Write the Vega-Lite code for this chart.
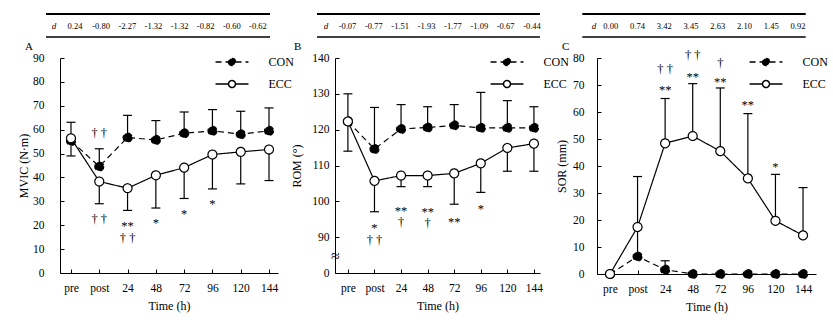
{
  "$schema": "https://vega.github.io/schema/vega-lite/v6.json",
  "background": "white",
  "padding": {"left": 17, "top": 13, "right": 3, "bottom": 5},
  "datasets": {
    "A": [
      {"time": "pre", "group": "CON", "mean": 55.3, "bar": 63.1},
      {"time": "post", "group": "CON", "mean": 44.6, "bar": 52},
      {"time": "24", "group": "CON", "mean": 56.7, "bar": 66},
      {"time": "48", "group": "CON", "mean": 55.7, "bar": 63.8},
      {"time": "72", "group": "CON", "mean": 58.5, "bar": 67.4},
      {"time": "96", "group": "CON", "mean": 59.5, "bar": 68.4},
      {"time": "120", "group": "CON", "mean": 58.1, "bar": 67.7},
      {"time": "144", "group": "CON", "mean": 59.5, "bar": 69.1},
      {"time": "pre", "group": "ECC", "mean": 56.4, "bar": 49},
      {"time": "post", "group": "ECC", "mean": 38.3, "bar": 29},
      {"time": "24", "group": "ECC", "mean": 35.5, "bar": 26.2},
      {"time": "48", "group": "ECC", "mean": 40.9, "bar": 27.2},
      {"time": "72", "group": "ECC", "mean": 44.1, "bar": 31.2},
      {"time": "96", "group": "ECC", "mean": 49.6, "bar": 35.2},
      {"time": "120", "group": "ECC", "mean": 50.7, "bar": 37.3},
      {"time": "144", "group": "ECC", "mean": 51.7, "bar": 38.7}
    ],
    "B": [
      {"time": "pre", "group": "CON", "mean": 122.3, "bar": 130},
      {"time": "post", "group": "CON", "mean": 114.6, "bar": 126.2},
      {"time": "24", "group": "CON", "mean": 120.2, "bar": 127},
      {"time": "48", "group": "CON", "mean": 120.6, "bar": 126.4},
      {"time": "72", "group": "CON", "mean": 121.2, "bar": 127},
      {"time": "96", "group": "CON", "mean": 120.5, "bar": 130.4},
      {"time": "120", "group": "CON", "mean": 120.5, "bar": 128.1},
      {"time": "144", "group": "CON", "mean": 120.5, "bar": 126.4},
      {"time": "pre", "group": "ECC", "mean": 122.3, "bar": 114},
      {"time": "post", "group": "ECC", "mean": 105.7, "bar": 97.1},
      {"time": "24", "group": "ECC", "mean": 107.2, "bar": 104.1},
      {"time": "48", "group": "ECC", "mean": 107.2, "bar": 104.1},
      {"time": "72", "group": "ECC", "mean": 107.8, "bar": 99.2},
      {"time": "96", "group": "ECC", "mean": 110.6, "bar": 102.5},
      {"time": "120", "group": "ECC", "mean": 114.9, "bar": 108.4},
      {"time": "144", "group": "ECC", "mean": 116.1, "bar": 108.4}
    ],
    "C": [
      {"time": "pre", "group": "CON", "mean": 0, "bar": null},
      {"time": "post", "group": "CON", "mean": 6.5, "bar": 16.5},
      {"time": "24", "group": "CON", "mean": 1.6, "bar": 4.9},
      {"time": "48", "group": "CON", "mean": 0, "bar": null},
      {"time": "72", "group": "CON", "mean": 0, "bar": null},
      {"time": "96", "group": "CON", "mean": 0, "bar": null},
      {"time": "120", "group": "CON", "mean": 0, "bar": null},
      {"time": "144", "group": "CON", "mean": 0, "bar": null},
      {"time": "pre", "group": "ECC", "mean": 0, "bar": null},
      {"time": "post", "group": "ECC", "mean": 17.4, "bar": 36.1},
      {"time": "24", "group": "ECC", "mean": 48.4, "bar": 65},
      {"time": "48", "group": "ECC", "mean": 51.1, "bar": 70.5},
      {"time": "72", "group": "ECC", "mean": 45.5, "bar": 68.9},
      {"time": "96", "group": "ECC", "mean": 35.4, "bar": 59.4},
      {"time": "120", "group": "ECC", "mean": 19.7, "bar": 36.9},
      {"time": "144", "group": "ECC", "mean": 14.3, "bar": 32}
    ],
    "annA": [
      {"time": "post", "y": 58.5, "label": "† †"},
      {"time": "post", "y": 22.5, "label": "† †"},
      {"time": "24", "y": 19.7, "label": "**"},
      {"time": "24", "y": 14.6, "label": "† †"},
      {"time": "48", "y": 21, "label": "*"},
      {"time": "72", "y": 24.7, "label": "*"},
      {"time": "96", "y": 28.7, "label": "*"}
    ],
    "annB": [
      {"time": "post", "y": 92.6, "label": "*"},
      {"time": "post", "y": 89.2, "label": "† †"},
      {"time": "24", "y": 97.3, "label": "**"},
      {"time": "24", "y": 94.2, "label": "†"},
      {"time": "48", "y": 97.0, "label": "**"},
      {"time": "48", "y": 94.0, "label": "†"},
      {"time": "72", "y": 94.1, "label": "**"},
      {"time": "96", "y": 98, "label": "*"}
    ],
    "annC": [
      {"time": "24", "y": 68.2, "label": "**"},
      {"time": "24", "y": 75.8, "label": "† †"},
      {"time": "48", "y": 73.1, "label": "**"},
      {"time": "48", "y": 81, "label": "† †"},
      {"time": "72", "y": 71, "label": "**"},
      {"time": "72", "y": 78.2, "label": "†"},
      {"time": "96", "y": 62.7, "label": "**"},
      {"time": "120", "y": 39.6, "label": "*"}
    ],
    "dA": [
      {"col": 1, "d": "0.24"}, {"col": 2, "d": "-0.80"}, {"col": 3, "d": "-2.27"}, {"col": 4, "d": "-1.32"},
      {"col": 5, "d": "-1.32"}, {"col": 6, "d": "-0.82"}, {"col": 7, "d": "-0.60"}, {"col": 8, "d": "-0.62"}
    ],
    "dB": [
      {"col": 1, "d": "-0.07"}, {"col": 2, "d": "-0.77"}, {"col": 3, "d": "-1.51"}, {"col": 4, "d": "-1.93"},
      {"col": 5, "d": "-1.77"}, {"col": 6, "d": "-1.09"}, {"col": 7, "d": "-0.67"}, {"col": 8, "d": "-0.44"}
    ],
    "dC": [
      {"col": 1, "d": "0.00"}, {"col": 2, "d": "0.74"}, {"col": 3, "d": "3.42"}, {"col": 4, "d": "3.45"},
      {"col": 5, "d": "2.63"}, {"col": 6, "d": "2.10"}, {"col": 7, "d": "1.45"}, {"col": 8, "d": "0.92"}
    ]
  },
  "resolve": {"scale": {"fill": "independent", "strokeDash": "independent"}, "legend": {"fill": "independent", "strokeDash": "independent"}},
  "bounds": "flush",
  "spacing": 57,
  "hconcat": [
    {
      "width": 218, "height": 215,
      "resolve": {"scale": {"x": "independent", "y": "independent"}},
      "layer": [
        {
          "data": {"name": "A"},
          "encoding": {
            "x": {"field": "time", "type": "ordinal", "sort": ["pre", "post", "24", "48", "72", "96", "120", "144"],
                  "scale": {"type": "point", "domain": ["pre", "post", "24", "48", "72", "96", "120", "144"], "padding": 0.353, "align": 0.55},
                  "axis": {"title": "Time (h)"}}
          },
          "layer": [
            {"transform": [{"filter": "isValid(datum.bar)"}],
             "mark": {"type": "rule", "color": "black", "strokeWidth": 1.2},
             "encoding": {"y": {"field": "mean", "type": "quantitative", "title": "MVIC (N·m)", "scale": {"domain": [0, 90], "nice": false},
                                "axis": {"values": [0, 10, 20, 30, 40, 50, 60, 70, 80, 90], "labelOverlap": false, "labelSeparation": -10, "labelPadding": 20, "titleX": -37, "titleBaseline": "middle"}},
                          "y2": {"field": "bar"}}},
            {"transform": [{"filter": "isValid(datum.bar)"}],
             "mark": {"type": "tick", "color": "black", "thickness": 1.2, "size": 9, "opacity": 1},
             "encoding": {"y": {"field": "bar", "type": "quantitative", "title": "MVIC (N·m)",
                                "axis": {"values": [0, 10, 20, 30, 40, 50, 60, 70, 80, 90], "labelOverlap": false, "labelSeparation": -10, "labelPadding": 20, "titleX": -37, "titleBaseline": "middle"}}}},
            {"mark": {"type": "line", "color": "black", "strokeWidth": 1.2},
             "encoding": {"y": {"field": "mean", "type": "quantitative", "title": "MVIC (N·m)",
                                "axis": {"values": [0, 10, 20, 30, 40, 50, 60, 70, 80, 90], "labelOverlap": false, "labelSeparation": -10, "labelPadding": 20, "titleX": -37, "titleBaseline": "middle"}},
                          "strokeDash": {"field": "group", "type": "nominal", "scale": {"domain": ["CON", "ECC"], "range": [[6, 4], [1, 0]]},
                                   "legend": {"title": null, "orient": "none", "legendX": 166, "legendY": -2, "padding": 0, "symbolType": "M-4.7,0H-1M1,0H4.7M-1,0A1,1,0,1,0,1,0A1,1,0,1,0,-1,0Z", "symbolSize": 49, "labelOffset": 30.5, "rowPadding": 8, "labelFontSize": 12, "labelColor": "black",
                                              "encode": {"symbols": {"update": {"stroke": {"value": "black"}, "strokeWidth": {"value": 1.2}}}}}}}},
            {"mark": {"type": "point", "shape": "circle", "size": 80, "filled": true, "stroke": "black", "strokeWidth": 1.2, "opacity": 1},
             "encoding": {"y": {"field": "mean", "type": "quantitative", "title": "MVIC (N·m)",
                                "axis": {"values": [0, 10, 20, 30, 40, 50, 60, 70, 80, 90], "labelOverlap": false, "labelSeparation": -10, "labelPadding": 20, "titleX": -37, "titleBaseline": "middle"}},
                          "fill": {"field": "group", "type": "nominal", "scale": {"domain": ["CON", "ECC"], "range": ["black", "white"]},
                                   "legend": {"title": null, "orient": "none", "legendX": 166, "legendY": -2, "padding": 0, "symbolType": "M-4.7,0H-1M1,0H4.7M-1,0A1,1,0,1,0,1,0A1,1,0,1,0,-1,0Z", "symbolSize": 49, "labelOffset": 30.5, "rowPadding": 8, "labelFontSize": 12, "labelColor": "black",
                                              "encode": {"symbols": {"update": {"stroke": {"value": "black"}, "strokeWidth": {"value": 1.2}}}}}},
                          "strokeDash": {"field": "group", "type": "nominal",
                                   "legend": {"title": null, "orient": "none", "legendX": 166, "legendY": -2, "padding": 0, "symbolType": "M-4.7,0H-1M1,0H4.7M-1,0A1,1,0,1,0,1,0A1,1,0,1,0,-1,0Z", "symbolSize": 49, "labelOffset": 30.5, "rowPadding": 8, "labelFontSize": 12, "labelColor": "black",
                                              "encode": {"symbols": {"update": {"stroke": {"value": "black"}, "strokeWidth": {"value": 1.2}}}}}}}},
            {"data": {"name": "annA"},
             "mark": {"type": "text", "fontSize": 12.5, "color": "black", "baseline": "middle"},
             "encoding": {"y": {"field": "y", "type": "quantitative", "title": "MVIC (N·m)",
                                "axis": {"values": [0, 10, 20, 30, 40, 50, 60, 70, 80, 90], "labelOverlap": false, "labelSeparation": -10, "labelPadding": 20, "titleX": -37, "titleBaseline": "middle"}},
                          "text": {"field": "label"}}}
          ]
        },
        {
          "layer": [
            {"data": {"values": [{}]}, "mark": {"type": "rule", "color": "black", "strokeWidth": 2},
             "encoding": {"x": {"datum": -0.11, "type": "quantitative", "scale": {"domain": [0.426, 8.766], "nice": false, "zero": false}, "axis": null},
                          "x2": {"datum": 8.46},
                          "y": {"datum": 1, "type": "quantitative", "scale": {"domain": [0, 1], "range": [-21, -44], "nice": false}, "axis": null}}},
            {"data": {"values": [{}]}, "mark": {"type": "rule", "color": "black", "strokeWidth": 1.5},
             "encoding": {"x": {"datum": -0.11, "type": "quantitative"}, "x2": {"datum": 8.46},
                          "y": {"datum": 0, "type": "quantitative"}}},
            {"data": {"values": [{}]}, "mark": {"type": "text", "fontStyle": "italic", "fontSize": 9, "color": "black"},
             "encoding": {"x": {"datum": 0.2, "type": "quantitative"}, "y": {"datum": 0.5, "type": "quantitative"}, "text": {"value": "d"}}},
            {"data": {"name": "dA"}, "mark": {"type": "text", "fontSize": 8.5, "color": "black"},
             "encoding": {"x": {"field": "col", "type": "quantitative"}, "y": {"datum": 0.5, "type": "quantitative"}, "text": {"field": "d"}}},
            {"data": {"values": [{}]}, "mark": {"type": "text", "fontSize": 11, "color": "black", "align": "left", "baseline": "middle"},
             "encoding": {"x": {"datum": -0.913, "type": "quantitative"}, "y": {"datum": -0.435, "type": "quantitative"}, "text": {"value": "A"}}}
          ]
        }
      ]
    },
    {
      "width": 205, "height": 215,
      "resolve": {"scale": {"x": "independent", "y": "independent"}},
      "layer": [
        {
          "data": {"name": "B"},
          "encoding": {
            "x": {"field": "time", "type": "ordinal", "sort": ["pre", "post", "24", "48", "72", "96", "120", "144"],
                  "scale": {"type": "point", "domain": ["pre", "post", "24", "48", "72", "96", "120", "144"], "padding": 0.357, "align": 0.68},
                  "axis": {"title": "Time (h)"}}
          },
          "layer": [
            {"transform": [{"filter": "isValid(datum.bar)"}],
             "mark": {"type": "rule", "color": "black", "strokeWidth": 1.2},
             "encoding": {"y": {"field": "mean", "type": "quantitative", "title": "ROM (°)", "scale": {"domain": [80, 140], "nice": false, "zero": false},
                                "axis": {"values": [80, 85, 90, 100, 110, 120, 130, 140], "labelOverlap": false, "labelSeparation": -10,
                                         "labelExpr": "datum.value == 80 ? '0' : datum.value == 85 ? '≈' : datum.label",
                                         "labelAlign": {"condition": {"test": "datum.value == 85", "value": "center"}, "value": "right"},
                                         "labelPadding": {"condition": {"test": "datum.value == 85", "value": 4}, "value": 10},
                                         "labelFontSize": {"condition": {"test": "datum.value == 85", "value": 16}, "value": 11.5},
                                         "tickOpacity": {"condition": {"test": "datum.value == 85", "value": 0}, "value": 1},
                                         "titleX": -39, "titleBaseline": "middle"}},
                          "y2": {"field": "bar"}}},
            {"transform": [{"filter": "isValid(datum.bar)"}],
             "mark": {"type": "tick", "color": "black", "thickness": 1.2, "size": 9, "opacity": 1},
             "encoding": {"y": {"field": "bar", "type": "quantitative", "title": "ROM (°)",
                                "axis": {"values": [80, 85, 90, 100, 110, 120, 130, 140], "labelOverlap": false, "labelSeparation": -10,
                                         "labelExpr": "datum.value == 80 ? '0' : datum.value == 85 ? '≈' : datum.label",
                                         "labelAlign": {"condition": {"test": "datum.value == 85", "value": "center"}, "value": "right"},
                                         "labelPadding": {"condition": {"test": "datum.value == 85", "value": 4}, "value": 10},
                                         "labelFontSize": {"condition": {"test": "datum.value == 85", "value": 16}, "value": 11.5},
                                         "tickOpacity": {"condition": {"test": "datum.value == 85", "value": 0}, "value": 1},
                                         "titleX": -39, "titleBaseline": "middle"}}}},
            {"mark": {"type": "line", "color": "black", "strokeWidth": 1.2},
             "encoding": {"y": {"field": "mean", "type": "quantitative", "title": "ROM (°)",
                                "axis": {"values": [80, 85, 90, 100, 110, 120, 130, 140], "labelOverlap": false, "labelSeparation": -10,
                                         "labelExpr": "datum.value == 80 ? '0' : datum.value == 85 ? '≈' : datum.label",
                                         "labelAlign": {"condition": {"test": "datum.value == 85", "value": "center"}, "value": "right"},
                                         "labelPadding": {"condition": {"test": "datum.value == 85", "value": 4}, "value": 10},
                                         "labelFontSize": {"condition": {"test": "datum.value == 85", "value": 16}, "value": 11.5},
                                         "tickOpacity": {"condition": {"test": "datum.value == 85", "value": 0}, "value": 1},
                                         "titleX": -39, "titleBaseline": "middle"}},
                          "strokeDash": {"field": "group", "type": "nominal", "scale": {"domain": ["CON", "ECC"], "range": [[6, 4], [1, 0]]},
                                   "legend": {"title": null, "orient": "none", "legendX": 166, "legendY": -2, "padding": 0, "symbolType": "M-4.7,0H-1M1,0H4.7M-1,0A1,1,0,1,0,1,0A1,1,0,1,0,-1,0Z", "symbolSize": 49, "labelOffset": 30.5, "rowPadding": 8, "labelFontSize": 12, "labelColor": "black",
                                              "encode": {"symbols": {"update": {"stroke": {"value": "black"}, "strokeWidth": {"value": 1.2}}}}}}}},
            {"mark": {"type": "point", "shape": "circle", "size": 80, "filled": true, "stroke": "black", "strokeWidth": 1.2, "opacity": 1},
             "encoding": {"y": {"field": "mean", "type": "quantitative", "title": "ROM (°)",
                                "axis": {"values": [80, 85, 90, 100, 110, 120, 130, 140], "labelOverlap": false, "labelSeparation": -10,
                                         "labelExpr": "datum.value == 80 ? '0' : datum.value == 85 ? '≈' : datum.label",
                                         "labelAlign": {"condition": {"test": "datum.value == 85", "value": "center"}, "value": "right"},
                                         "labelPadding": {"condition": {"test": "datum.value == 85", "value": 4}, "value": 10},
                                         "labelFontSize": {"condition": {"test": "datum.value == 85", "value": 16}, "value": 11.5},
                                         "tickOpacity": {"condition": {"test": "datum.value == 85", "value": 0}, "value": 1},
                                         "titleX": -39, "titleBaseline": "middle"}},
                          "fill": {"field": "group", "type": "nominal", "scale": {"domain": ["CON", "ECC"], "range": ["black", "white"]},
                                   "legend": {"title": null, "orient": "none", "legendX": 166, "legendY": -2, "padding": 0, "symbolType": "M-4.7,0H-1M1,0H4.7M-1,0A1,1,0,1,0,1,0A1,1,0,1,0,-1,0Z", "symbolSize": 49, "labelOffset": 30.5, "rowPadding": 8, "labelFontSize": 12, "labelColor": "black",
                                              "encode": {"symbols": {"update": {"stroke": {"value": "black"}, "strokeWidth": {"value": 1.2}}}}}},
                          "strokeDash": {"field": "group", "type": "nominal",
                                   "legend": {"title": null, "orient": "none", "legendX": 166, "legendY": -2, "padding": 0, "symbolType": "M-4.7,0H-1M1,0H4.7M-1,0A1,1,0,1,0,1,0A1,1,0,1,0,-1,0Z", "symbolSize": 49, "labelOffset": 30.5, "rowPadding": 8, "labelFontSize": 12, "labelColor": "black",
                                              "encode": {"symbols": {"update": {"stroke": {"value": "black"}, "strokeWidth": {"value": 1.2}}}}}}}},
            {"data": {"name": "annB"},
             "mark": {"type": "text", "fontSize": 12.5, "color": "black", "baseline": "middle"},
             "encoding": {"y": {"field": "y", "type": "quantitative", "title": "ROM (°)",
                                "axis": {"values": [80, 85, 90, 100, 110, 120, 130, 140], "labelOverlap": false, "labelSeparation": -10,
                                         "labelExpr": "datum.value == 80 ? '0' : datum.value == 85 ? '≈' : datum.label",
                                         "labelAlign": {"condition": {"test": "datum.value == 85", "value": "center"}, "value": "right"},
                                         "labelPadding": {"condition": {"test": "datum.value == 85", "value": 4}, "value": 10},
                                         "labelFontSize": {"condition": {"test": "datum.value == 85", "value": 16}, "value": 11.5},
                                         "tickOpacity": {"condition": {"test": "datum.value == 85", "value": 0}, "value": 1},
                                         "titleX": -39, "titleBaseline": "middle"}},
                          "text": {"field": "label"}}}
          ]
        },
        {
          "layer": [
            {"data": {"values": [{}]}, "mark": {"type": "rule", "color": "black", "strokeWidth": 2},
             "encoding": {"x": {"datum": -0.157, "type": "quantitative", "scale": {"domain": [0.526, 8.303], "nice": false, "zero": false}, "axis": null},
                          "x2": {"datum": 8.3},
                          "y": {"datum": 1, "type": "quantitative", "scale": {"domain": [0, 1], "range": [-21, -44], "nice": false}, "axis": null}}},
            {"data": {"values": [{}]}, "mark": {"type": "rule", "color": "black", "strokeWidth": 1.5},
             "encoding": {"x": {"datum": -0.157, "type": "quantitative"}, "x2": {"datum": 8.3},
                          "y": {"datum": 0, "type": "quantitative"}}},
            {"data": {"values": [{}]}, "mark": {"type": "text", "fontStyle": "italic", "fontSize": 9, "color": "black"},
             "encoding": {"x": {"datum": 0.185, "type": "quantitative"}, "y": {"datum": 0.5, "type": "quantitative"}, "text": {"value": "d"}}},
            {"data": {"name": "dB"}, "mark": {"type": "text", "fontSize": 8.5, "color": "black"},
             "encoding": {"x": {"field": "col", "type": "quantitative"}, "y": {"datum": 0.5, "type": "quantitative"}, "text": {"field": "d"}}},
            {"data": {"values": [{}]}, "mark": {"type": "text", "fontSize": 11, "color": "black", "align": "left", "baseline": "middle"},
             "encoding": {"x": {"datum": -1.029, "type": "quantitative"}, "y": {"datum": -0.435, "type": "quantitative"}, "text": {"value": "B"}}}
          ]
        }
      ]
    },
    {
      "width": 219, "height": 216,
      "resolve": {"scale": {"x": "independent", "y": "independent"}},
      "layer": [
        {
          "data": {"name": "C"},
          "encoding": {
            "x": {"field": "time", "type": "ordinal", "sort": ["pre", "post", "24", "48", "72", "96", "120", "144"],
                  "scale": {"type": "point", "domain": ["pre", "post", "24", "48", "72", "96", "120", "144"], "padding": 0.47, "align": 0.5},
                  "axis": {"title": "Time (h)"}}
          },
          "layer": [
            {"transform": [{"filter": "isValid(datum.bar)"}],
             "mark": {"type": "rule", "color": "black", "strokeWidth": 1.2},
             "encoding": {"y": {"field": "mean", "type": "quantitative", "title": "SOR (mm)", "scale": {"domain": [0, 80], "nice": false},
                                "axis": {"values": [0, 10, 20, 30, 40, 50, 60, 70, 80], "labelOverlap": false, "labelSeparation": -10, "labelPadding": 17, "titleX": -36, "titleBaseline": "middle"}},
                          "y2": {"field": "bar"}}},
            {"transform": [{"filter": "isValid(datum.bar)"}],
             "mark": {"type": "tick", "color": "black", "thickness": 1.2, "size": 9, "opacity": 1},
             "encoding": {"y": {"field": "bar", "type": "quantitative", "title": "SOR (mm)",
                                "axis": {"values": [0, 10, 20, 30, 40, 50, 60, 70, 80], "labelOverlap": false, "labelSeparation": -10, "labelPadding": 17, "titleX": -36, "titleBaseline": "middle"}}}},
            {"mark": {"type": "line", "color": "black", "strokeWidth": 1.2},
             "encoding": {"y": {"field": "mean", "type": "quantitative", "title": "SOR (mm)",
                                "axis": {"values": [0, 10, 20, 30, 40, 50, 60, 70, 80], "labelOverlap": false, "labelSeparation": -10, "labelPadding": 17, "titleX": -36, "titleBaseline": "middle"}},
                          "strokeDash": {"field": "group", "type": "nominal", "scale": {"domain": ["CON", "ECC"], "range": [[6, 4], [1, 0]]},
                                   "legend": {"title": null, "orient": "none", "legendX": 163, "legendY": -2, "padding": 0, "symbolType": "M-4.7,0H-1M1,0H4.7M-1,0A1,1,0,1,0,1,0A1,1,0,1,0,-1,0Z", "symbolSize": 49, "labelOffset": 30.5, "rowPadding": 8, "labelFontSize": 12, "labelColor": "black",
                                              "encode": {"symbols": {"update": {"stroke": {"value": "black"}, "strokeWidth": {"value": 1.2}}}}}}}},
            {"mark": {"type": "point", "shape": "circle", "size": 80, "filled": true, "stroke": "black", "strokeWidth": 1.2, "opacity": 1},
             "encoding": {"y": {"field": "mean", "type": "quantitative", "title": "SOR (mm)",
                                "axis": {"values": [0, 10, 20, 30, 40, 50, 60, 70, 80], "labelOverlap": false, "labelSeparation": -10, "labelPadding": 17, "titleX": -36, "titleBaseline": "middle"}},
                          "fill": {"field": "group", "type": "nominal", "scale": {"domain": ["CON", "ECC"], "range": ["black", "white"]},
                                   "legend": {"title": null, "orient": "none", "legendX": 163, "legendY": -2, "padding": 0, "symbolType": "M-4.7,0H-1M1,0H4.7M-1,0A1,1,0,1,0,1,0A1,1,0,1,0,-1,0Z", "symbolSize": 49, "labelOffset": 30.5, "rowPadding": 8, "labelFontSize": 12, "labelColor": "black",
                                              "encode": {"symbols": {"update": {"stroke": {"value": "black"}, "strokeWidth": {"value": 1.2}}}}}},
                          "strokeDash": {"field": "group", "type": "nominal",
                                   "legend": {"title": null, "orient": "none", "legendX": 163, "legendY": -2, "padding": 0, "symbolType": "M-4.7,0H-1M1,0H4.7M-1,0A1,1,0,1,0,1,0A1,1,0,1,0,-1,0Z", "symbolSize": 49, "labelOffset": 30.5, "rowPadding": 8, "labelFontSize": 12, "labelColor": "black",
                                              "encode": {"symbols": {"update": {"stroke": {"value": "black"}, "strokeWidth": {"value": 1.2}}}}}}}},
            {"data": {"name": "annC"},
             "mark": {"type": "text", "fontSize": 12.5, "color": "black", "baseline": "middle"},
             "encoding": {"y": {"field": "y", "type": "quantitative", "title": "SOR (mm)",
                                "axis": {"values": [0, 10, 20, 30, 40, 50, 60, 70, 80], "labelOverlap": false, "labelSeparation": -10, "labelPadding": 17, "titleX": -36, "titleBaseline": "middle"}},
                          "text": {"field": "label"}}}
          ]
        },
        {
          "layer": [
            {"data": {"values": [{}]}, "mark": {"type": "rule", "color": "black", "strokeWidth": 2},
             "encoding": {"x": {"datum": -0.061, "type": "quantitative", "scale": {"domain": [0.488, 8.672], "nice": false, "zero": false}, "axis": null},
                          "x2": {"datum": 8.287},
                          "y": {"datum": 1, "type": "quantitative", "scale": {"domain": [0, 1], "range": [-21, -44], "nice": false}, "axis": null}}},
            {"data": {"values": [{}]}, "mark": {"type": "rule", "color": "black", "strokeWidth": 1.5},
             "encoding": {"x": {"datum": -0.061, "type": "quantitative"}, "x2": {"datum": 8.287},
                          "y": {"datum": 0, "type": "quantitative"}}},
            {"data": {"values": [{}]}, "mark": {"type": "text", "fontStyle": "italic", "fontSize": 9, "color": "black"},
             "encoding": {"x": {"datum": 0.376, "type": "quantitative"}, "y": {"datum": 0.5, "type": "quantitative"}, "text": {"value": "d"}}},
            {"data": {"name": "dC"}, "mark": {"type": "text", "fontSize": 8.5, "color": "black"},
             "encoding": {"x": {"field": "col", "type": "quantitative"}, "y": {"datum": 0.5, "type": "quantitative"}, "text": {"field": "d"}}},
            {"data": {"values": [{}]}, "mark": {"type": "text", "fontSize": 11, "color": "black", "align": "left", "baseline": "middle"},
             "encoding": {"x": {"datum": -0.82, "type": "quantitative"}, "y": {"datum": -0.435, "type": "quantitative"}, "text": {"value": "C"}}}
          ]
        }
      ]
    }
  ],
  "config": {
    "view": {"stroke": null},
    "font": "Liberation Serif",
    "axis": {"domainColor": "black", "domainWidth": 1, "tickColor": "black", "tickWidth": 1, "tickSize": -4, "labelOverlap": false,
             "labelColor": "black", "labelFontSize": 11.5, "labelFont": "Liberation Serif",
             "titleColor": "black", "titleFontSize": 12, "titleFontWeight": "normal", "titleFont": "Liberation Serif", "grid": false},
    "axisX": {"labelAngle": 0, "labelPadding": 13, "titlePadding": 7},
    "legend": {"labelFont": "Liberation Serif"},
    "title": {"font": "Liberation Serif"}
  }
}
